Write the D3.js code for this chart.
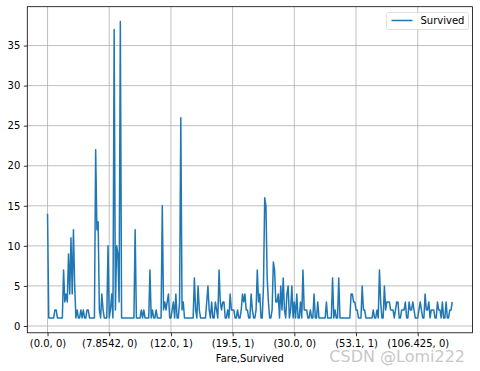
<!DOCTYPE html>
<html>
<head>
<meta charset="utf-8">
<script src="https://cdn.jsdelivr.net/npm/d3@7"></script>
<style>
  body { margin: 0; background: #fff; }
  text { font-family: "DejaVu Sans", sans-serif; }
</style>
</head>
<body>
<div class="chart"></div>
<script>
'use strict';

// counts per (Fare, Survived) group, in index order
var survived = [
  14, 1, 1, 1, 1, 1, 2, 2, 1, 1, 1, 1, 1, 7, 3, 4, 3, 9, 4, 11,
  4, 12, 5, 1, 2, 1, 1, 2, 1, 2, 1, 1, 2, 2, 1, 1, 1, 1, 1, 22,
  12, 13, 2, 1, 4, 2, 1, 1, 1, 10, 1, 2, 4, 1, 37, 2, 10, 9, 3, 38,
  1, 1, 1, 1, 1, 1, 1, 1, 1, 1, 1, 12, 1, 1, 1, 1, 2, 1, 2, 1,
  1, 1, 1, 7, 1, 2, 1, 1, 2, 1, 1, 1, 1, 15, 2, 3, 2, 3, 4, 1,
  1, 2, 3, 1, 4, 1, 1, 3, 26, 2, 3, 1, 1, 1, 1, 1, 1, 1, 1, 6,
  2, 1, 5, 2, 1, 1, 1, 1, 1, 3, 5, 2, 1, 3, 1, 1, 3, 2, 1, 7,
  3, 2, 3, 3, 1, 1, 2, 1, 4, 2, 2, 2, 1, 1, 2, 1, 1, 2, 4, 3,
  4, 2, 2, 1, 1, 4, 2, 1, 1, 2, 7, 3, 4, 1, 1, 5, 16, 15, 6, 3,
  1, 1, 2, 8, 7, 3, 3, 4, 1, 5, 2, 6, 2, 1, 4, 5, 1, 2, 5, 1,
  3, 1, 4, 1, 1, 3, 1, 7, 2, 2, 2, 1, 1, 2, 1, 1, 4, 1, 1, 3,
  1, 1, 1, 1, 1, 1, 3, 1, 1, 1, 1, 6, 1, 2, 1, 1, 6, 1, 1, 1,
  1, 1, 1, 1, 1, 1, 4, 4, 3, 3, 2, 2, 1, 1, 1, 5, 2, 2, 1, 1,
  1, 1, 1, 1, 2, 1, 1, 2, 1, 7, 3, 1, 1, 5, 2, 3, 3, 3, 2, 2,
  2, 1, 2, 3, 3, 1, 1, 2, 2, 2, 3, 1, 1, 3, 2, 2, 3, 2, 1, 1,
  1, 2, 3, 2, 1, 1, 4, 2, 2, 3, 1, 2, 2, 2, 1, 1, 3, 2, 2, 1,
  3, 1, 1, 3, 1, 1, 2, 2, 3
];

var xTickIndex  = [0, 50, 100, 150, 200, 250, 300];
var xTickLabels = ['(0.0, 0)', '(7.8542, 0)', '(12.0, 1)', '(19.5, 1)',
                   '(30.0, 0)', '(53.1, 1)', '(106.425, 0)'];
var yTicks      = [0, 5, 10, 15, 20, 25, 30, 35];

var width  = 480;
var height = 371;
var plot   = { left: 27.3, right: 472.5, top: 6.7, bottom: 332.8 };

var svg = d3.select('.chart')
  .append('svg')
  .attr('width', width)
  .attr('height', height);

// matplotlib style 5% margins around the data
var n    = survived.length - 1;
var yMin = d3.min(survived);
var yMax = d3.max(survived);
var yPad = (yMax - yMin) * 0.05;

var x = d3.scaleLinear()
  .domain([-n * 0.05, n * 1.05])
  .range([plot.left, plot.right]);

var y = d3.scaleLinear()
  .domain([yMin - yPad, yMax + yPad])
  .range([plot.bottom, plot.top]);

// grid
var grid = svg.append('g')
  .attr('stroke', '#b0b0b0')
  .attr('stroke-width', 0.8);

grid.selectAll('.vgrid').data(xTickIndex).enter().append('line')
  .attr('x1', function(d){ return x(d); })
  .attr('x2', function(d){ return x(d); })
  .attr('y1', plot.top)
  .attr('y2', plot.bottom);

grid.selectAll('.hgrid').data(yTicks).enter().append('line')
  .attr('x1', plot.left)
  .attr('x2', plot.right)
  .attr('y1', function(d){ return y(d); })
  .attr('y2', function(d){ return y(d); });

// the series
var line = d3.line()
  .x(function(d, i){ return x(i); })
  .y(function(d){ return y(d); });

svg.append('path')
  .datum(survived)
  .attr('d', line)
  .attr('fill', 'none')
  .attr('stroke', '#1f77b4')
  .attr('stroke-width', 1.5)
  .attr('stroke-linejoin', 'round');

// axes
var xAxis = d3.axisBottom(x)
  .tickValues(xTickIndex)
  .tickFormat(function(d, i){ return xTickLabels[i]; })
  .tickSize(3.5)
  .tickPadding(3.5);

var yAxis = d3.axisLeft(y)
  .tickValues(yTicks)
  .tickSize(3.5)
  .tickPadding(3.5);

var gx = svg.append('g')
  .attr('transform', 'translate(0,' + plot.bottom + ')')
  .call(xAxis);

var gy = svg.append('g')
  .attr('transform', 'translate(' + plot.left + ',0)')
  .call(yAxis);

[gx, gy].forEach(function(g){
  g.select('.domain').remove();
  g.selectAll('line').attr('stroke', '#000').attr('stroke-width', 0.8);
  g.selectAll('text')
    .attr('fill', '#000')
    .style('font-size', '10px')
    .style('font-family', '"DejaVu Sans", sans-serif');
});

// frame
svg.append('rect')
  .attr('x', plot.left)
  .attr('y', plot.top)
  .attr('width', plot.right - plot.left)
  .attr('height', plot.bottom - plot.top)
  .attr('fill', 'none')
  .attr('stroke', '#000')
  .attr('stroke-width', 0.8);

svg.append('text')
  .attr('x', (plot.left + plot.right) / 2)
  .attr('y', 362)
  .attr('text-anchor', 'middle')
  .style('font-size', '10px')
  .text('Fare,Survived');

// legend
var legend = svg.append('g')
  .attr('transform', 'translate(386.5,12.5)');

legend.append('rect')
  .attr('width', 82)
  .attr('height', 17)
  .attr('rx', 2)
  .attr('fill', '#fff')
  .attr('fill-opacity', 0.8)
  .attr('stroke', '#d8d8d8')
  .attr('stroke-width', 0.8);

legend.append('line')
  .attr('x1', 5)
  .attr('x2', 26)
  .attr('y1', 8)
  .attr('y2', 8)
  .attr('stroke', '#1f77b4')
  .attr('stroke-width', 1.5);

legend.append('text')
  .attr('x', 34)
  .attr('y', 11.8)
  .style('font-size', '10px')
  .text('Survived');

// watermark
svg.append('text')
  .attr('x', 465)
  .attr('y', 362)
  .attr('text-anchor', 'end')
  .attr('fill', '#c8c8c8')
  .style('font-size', '16px')
  .text('CSDN @Lomi222');
</script>
</body>
</html>
